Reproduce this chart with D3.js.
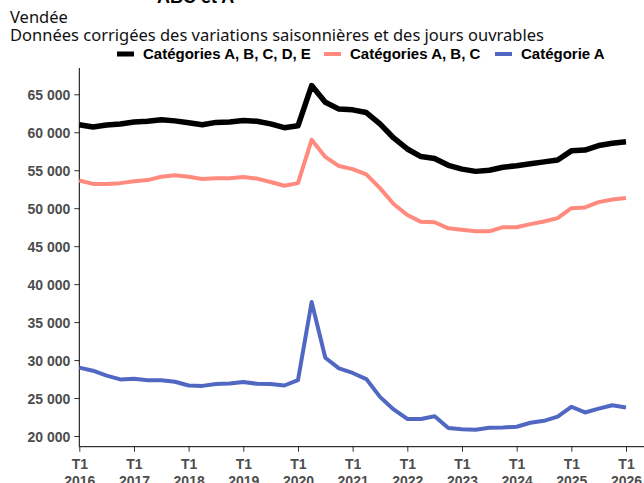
<!DOCTYPE html>
<html>
<head>
<meta charset="utf-8">
<script src="https://cdn.jsdelivr.net/npm/d3@7"></script>
<style>
  body { margin: 0; background: #fff; }
  svg { display: block; }
  .tick text { font-family: "Liberation Sans", Arial, sans-serif; font-weight: bold; font-size: 14px; fill: #4d4d4d; }
</style>
</head>
<body>
<svg id="chart" width="644" height="483"></svg>
<script>
// quarters 2016 T1 .. 2026 T1
const years = [2016, 2017, 2018, 2019, 2020, 2021, 2022, 2023, 2024, 2025, 2026];
const quarters = years.flatMap(y => ["T1", "T2", "T3", "T4"].map(q => y + q)).slice(0, 41);

const catABCDE = [61000, 60700, 60950, 61100, 61350, 61450, 61650, 61500, 61250, 61000,
  61300, 61350, 61550, 61450, 61100, 60600, 60850, 66150, 63950, 63050,
  62950, 62600, 61100, 59250, 57800, 56800, 56550, 55650, 55150, 54850,
  55000, 55400, 55600, 55850, 56100, 56350, 57550, 57650, 58250, 58550, 58750];

const catABC = [53650, 53200, 53200, 53300, 53550, 53700, 54150, 54350, 54150, 53850,
  53950, 53950, 54100, 53900, 53450, 52950, 53300, 59000, 56750, 55550,
  55150, 54450, 52650, 50550, 49100, 48200, 48150, 47350, 47150, 46950,
  46950, 47500, 47500, 47900, 48250, 48700, 50000, 50100, 50800, 51150, 51350];

const catA = [29000, 28600, 27950, 27450, 27550, 27350, 27350, 27150, 26650, 26600,
  26850, 26900, 27100, 26880, 26850, 26650, 27350, 37650, 30300, 28900,
  28300, 27500, 25150, 23500, 22250, 22250, 22600, 21050, 20880, 20830,
  21080, 21130, 21220, 21750, 22000, 22550, 23850, 23100, 23600, 24050, 23750];

const yTicks = [20000, 25000, 30000, 35000, 40000, 45000, 50000, 55000, 60000, 65000];

const series = [
  {name: "Catégories A, B, C, D, E", values: catABCDE, color: "#000000", width: 5.5},
  {name: "Catégories A, B, C", values: catABC, color: "#ff8a7d", width: 4},
  {name: "Catégorie A", values: catA, color: "#5068c2", width: 4}
];

const svg = d3.select("#chart");
const fr = d3.formatLocale({decimal: ",", thousands: "\u00a0", grouping: [3], currency: ["", " €"]});
const fmt = fr.format(",d");

const x = d3.scalePoint().domain(quarters).range([79.3, 626]);
const y = d3.scaleLinear().domain([20000, 65000]).range([436, 94.3]);

// titles
svg.append("text").attr("x", 157).attr("y", 3)
  .style("font-family", "Liberation Sans, Arial, sans-serif").style("font-weight", "bold").style("font-size", "18px")
  .text("ABC et A");
svg.append("text").attr("x", 10).attr("y", 23)
  .style("font-family", "Noto Sans, sans-serif").style("font-size", "16.5px").attr("fill", "#111")
  .text("Vendée");
svg.append("text").attr("x", 10).attr("y", 41)
  .style("font-family", "Noto Sans, sans-serif").style("font-size", "16.5px").attr("fill", "#111")
  .text("Données corrigées des variations saisonnières et des jours ouvrables");

// legend
const legendX = [117, 324, 495];
const leg = svg.append("g");
series.forEach((s, i) => {
  const g = leg.append("g").attr("transform", `translate(${legendX[i]},54)`);
  g.append("line").attr("x1", 0).attr("x2", 17).attr("stroke", s.color).attr("stroke-width", i === 0 ? 5 : 4);
  g.append("text").attr("x", 26).attr("y", 5)
    .style("font-family", "Liberation Sans, Arial, sans-serif").style("font-weight", "bold").style("font-size", "15px")
    .text(s.name);
});

// y axis
const yAxis = svg.append("g").attr("transform", "translate(79.3,0)")
  .call(d3.axisLeft(y).tickValues(yTicks).tickFormat(fmt).tickSize(5).tickPadding(4));
yAxis.select(".domain").remove();
yAxis.selectAll(".tick line").attr("stroke", "#333");
yAxis.selectAll(".tick text").attr("dy", "0.36em");
svg.append("line").attr("x1", 79.3).attr("x2", 79.3).attr("y1", 68).attr("y2", 446.7).attr("stroke", "#000");

// x axis
const yearTicks = quarters.filter(q => q.endsWith("T1"));
const xAxis = svg.append("g").attr("transform", "translate(0,446.7)")
  .call(d3.axisBottom(x).tickValues(yearTicks).tickSize(5).tickFormat(""));
xAxis.select(".domain").remove();
xAxis.selectAll(".tick line").attr("stroke", "#333");
xAxis.selectAll(".tick").append("text").attr("y", 22).attr("fill", "#4d4d4d").attr("text-anchor", "middle").text("T1");
xAxis.selectAll(".tick").append("text").attr("y", 39).attr("fill", "#4d4d4d").attr("text-anchor", "middle").text(d => d.slice(0, 4));
svg.append("line").attr("x1", 79.3).attr("x2", 644).attr("y1", 446.7).attr("y2", 446.7).attr("stroke", "#000");

// lines
const line = d3.line().x((d, i) => x(quarters[i])).y(d => y(d));
series.slice().reverse().forEach(s => {
  svg.append("path").datum(s.values)
    .attr("d", line)
    .attr("fill", "none")
    .attr("stroke", s.color)
    .attr("stroke-width", s.width)
    .attr("stroke-linejoin", "round");
});
</script>
</body>
</html>
